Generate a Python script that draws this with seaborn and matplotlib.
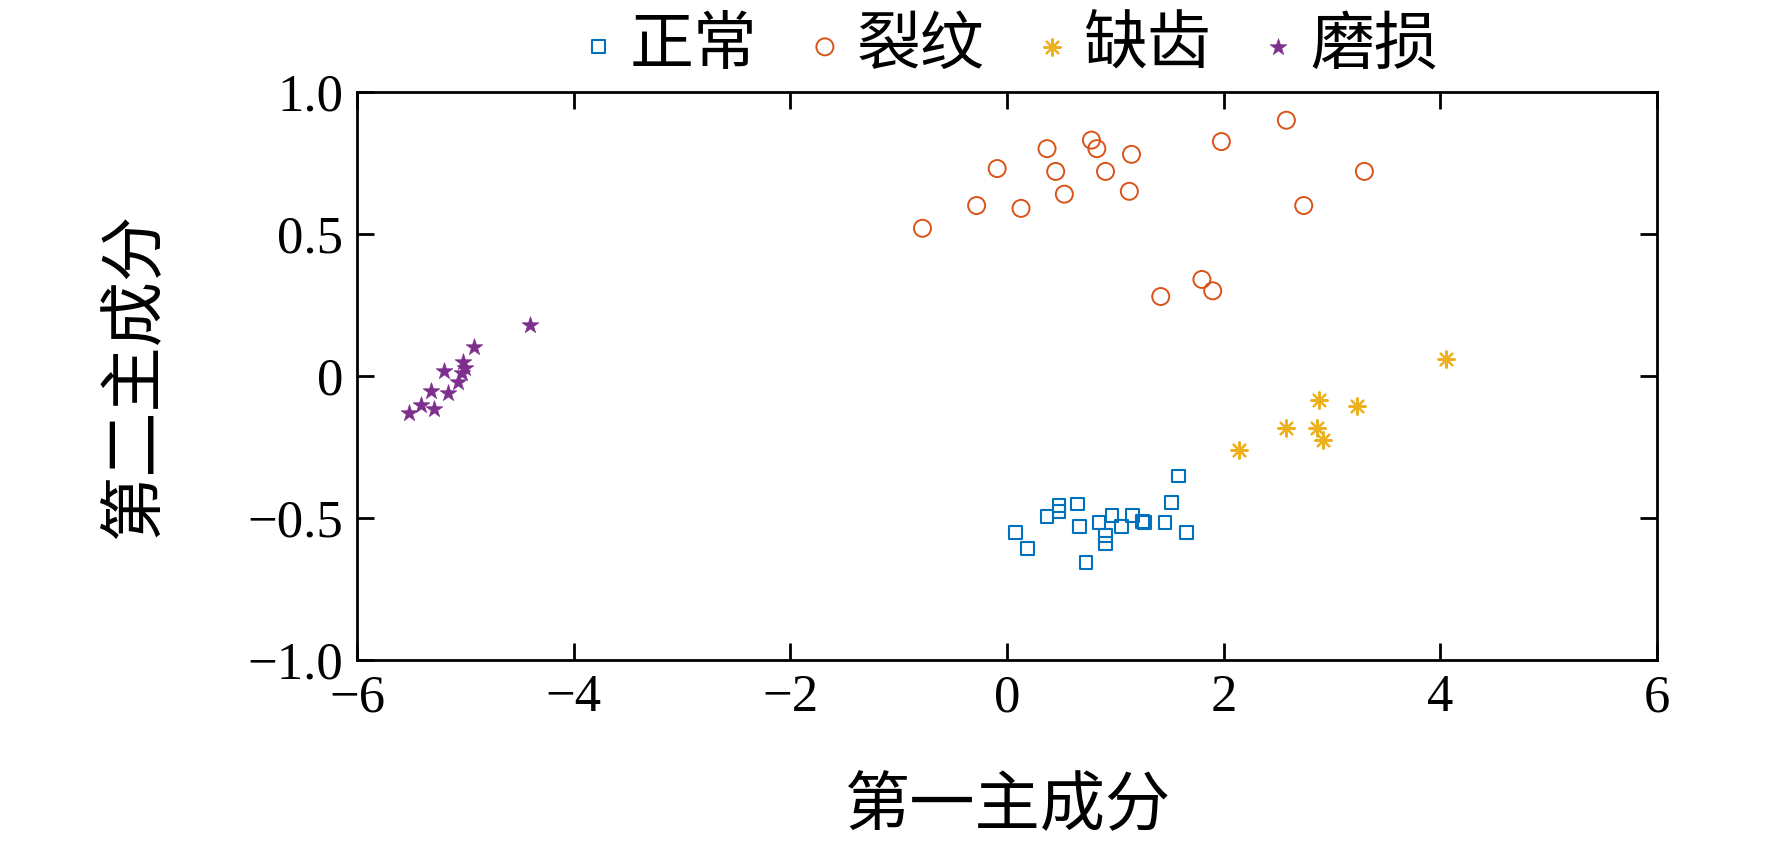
import matplotlib
matplotlib.use("Agg")
import matplotlib.pyplot as plt
import seaborn as sns
import pandas as pd

sns.set_theme(style="white")
plt.rcParams['font.family'] = ['Liberation Serif', 'Noto Sans CJK SC']
plt.rcParams['axes.unicode_minus'] = True
plt.rcParams['text.color'] = 'black'
plt.rcParams['axes.labelcolor'] = 'black'
plt.rcParams['xtick.color'] = 'black'
plt.rcParams['ytick.color'] = 'black'

labels = ["正常", "裂纹", "缺齿", "磨损"]
colors = ["#0072BD", "#D95319", "#EDB120", "#7E2F8E"]

normal_x = [1.585, 1.52, 1.66, 1.46, 1.27, 1.25, 1.16, 1.06, 0.97, 0.85, 0.91, 0.91, 0.65, 0.67, 0.48, 0.48, 0.37, 0.08, 0.19, 0.73]
normal_y = [-0.351, -0.445, -0.55, -0.515, -0.515, -0.51, -0.49, -0.53, -0.49, -0.515, -0.56, -0.59, -0.45, -0.53, -0.454, -0.477, -0.495, -0.55, -0.605, -0.655]

crack_x = [-0.78, -0.28, -0.09, 0.13, 0.37, 0.45, 0.53, 0.78, 0.83, 0.91, 1.15, 1.13, 1.98, 2.58, 3.30, 2.74, 1.42, 1.80, 1.90]
crack_y = [0.52, 0.60, 0.73, 0.59, 0.80, 0.72, 0.64, 0.83, 0.80, 0.72, 0.78, 0.65, 0.825, 0.90, 0.72, 0.60, 0.28, 0.34, 0.30]

missing_x = [4.05, 2.88, 3.23, 2.58, 2.86, 2.92, 2.14]
missing_y = [0.059, -0.085, -0.106, -0.184, -0.184, -0.225, -0.26]

wear_x = [-4.40, -4.92, -5.02, -5.00, -5.03, -5.20, -5.07, -5.32, -5.16, -5.41, -5.29, -5.52]
wear_y = [0.18, 0.103, 0.048, 0.027, 0.01, 0.018, -0.022, -0.053, -0.061, -0.10, -0.116, -0.128]

xticks = [-6, -4, -2, 0, 2, 4, 6]
yticks = [-1.0, -0.5, 0, 0.5, 1.0]
yticklabels = ["\u22121.0", "\u22120.5", "0", "0.5", "1.0"]
xticklabels = ["\u22126", "\u22124", "\u22122", "0", "2", "4", "6"]

groups = [(normal_x, normal_y), (crack_x, crack_y), (missing_x, missing_y), (wear_x, wear_y)]

fig = plt.figure(figsize=(17.72, 8.5), dpi=100)
ax = fig.add_axes([0.2015, 0.223, 0.7335, 0.669])

styles = [
    dict(marker="s", s=85, hollow=True, linewidths=1.5),
    dict(marker="o", s=150, hollow=True, linewidths=1.4),
    dict(marker=(8, 2, 0), s=140, hollow=False, linewidths=1.6),
    dict(marker="*", s=160, hollow=False, linewidths=0.5),
]

for (gx, gy), lab, col, st in zip(groups, labels, colors, styles):
    df = pd.DataFrame({"x": gx, "y": gy})
    kw = dict(st)
    hollow = kw.pop("hollow")
    if hollow:
        sns.scatterplot(data=df, x="x", y="y", ax=ax, label=lab, facecolor="none",
                        edgecolor=col, **kw)
    else:
        sns.scatterplot(data=df, x="x", y="y", ax=ax, label=lab, color=col,
                        edgecolor=col, **kw)

ax.set_xlim(-6, 6)
ax.set_ylim(-1, 1)
ax.set_xticks(xticks)
ax.set_xticklabels(xticklabels)
ax.set_yticks(yticks)
ax.set_yticklabels(yticklabels)
ax.tick_params(direction="in", length=12, width=2, labelsize=38, pad=10,
               top=True, right=True, bottom=True, left=True)
for sp in ax.spines.values():
    sp.set_linewidth(2)
    sp.set_color("black")
ax.set_xlabel("第一主成分", fontsize=47, labelpad=40)
ax.set_ylabel("第二主成分", fontsize=47, labelpad=58)

leg = ax.legend(loc="lower center", bbox_to_anchor=(0.5, 0.98), ncol=4, frameon=False,
                fontsize=46, handletextpad=0.15, columnspacing=0.7, borderaxespad=0,
                handlelength=0.7, markerscale=1.0)

fig.savefig("out.png", dpi=100)
